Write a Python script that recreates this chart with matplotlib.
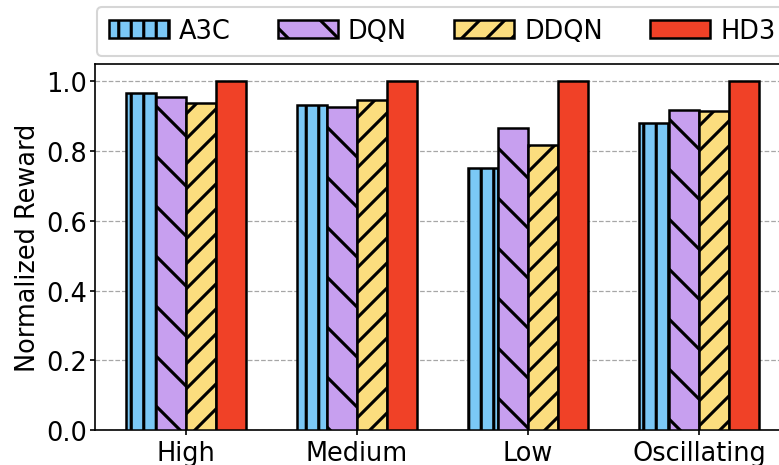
import matplotlib
matplotlib.use('Agg')
import matplotlib.pyplot as plt
import numpy as np

# Normalized reward per traffic pattern
patterns = ['High', 'Medium', 'Low', 'Oscillating']
methods = ['A3C', 'DQN', 'DDQN', 'HD3']
a3c = [0.968, 0.931, 0.751, 0.880]
dqn = [0.954, 0.928, 0.865, 0.917]
ddqn = [0.937, 0.948, 0.817, 0.914]
hd3 = [1.0, 1.0, 1.0, 1.0]

colors = ['#7BC8F6', '#C79FEF', '#FBDD7E', '#F04127']
hatches = ['||', '\\', '//', '']

plt.rcParams['font.size'] = 12.3
plt.rcParams['hatch.linewidth'] = 1.5

fig = plt.figure(figsize=(779 / 150, 466 / 150), dpi=150)
ax = fig.add_axes([95 / 779, 35 / 466, 695 / 779, 366 / 466])

x = np.arange(len(patterns))
w = 0.175
for i, (vals, name) in enumerate(zip([a3c, dqn, ddqn, hd3], methods)):
    ax.bar(x + (i - 1.5) * w, vals, w, color=colors[i], hatch=hatches[i],
           edgecolor='black', linewidth=1.2, label=name, zorder=3)

ax.set_xticks(x)
ax.set_xticklabels(patterns)
ax.set_xlim(-0.533, 3.533)
ax.set_ylim(0, 1.05)
ax.set_yticks([0.0, 0.2, 0.4, 0.6, 0.8, 1.0])
ax.set_ylabel('Normalized Reward', labelpad=2.5)
ax.tick_params(axis='x', length=2.5, pad=2.3)
ax.tick_params(axis='y', length=2.5, pad=1.5)
ax.yaxis.grid(True, linestyle='--', color='gray', linewidth=0.6, alpha=0.7)
ax.set_axisbelow(True)

ax.legend(loc='lower left', bbox_to_anchor=(0.003, 1.022), ncol=4,
          borderaxespad=0, handlelength=2.35, handletextpad=0.38,
          columnspacing=1.85, borderpad=0.45)

fig.savefig('out.png', dpi=150)
